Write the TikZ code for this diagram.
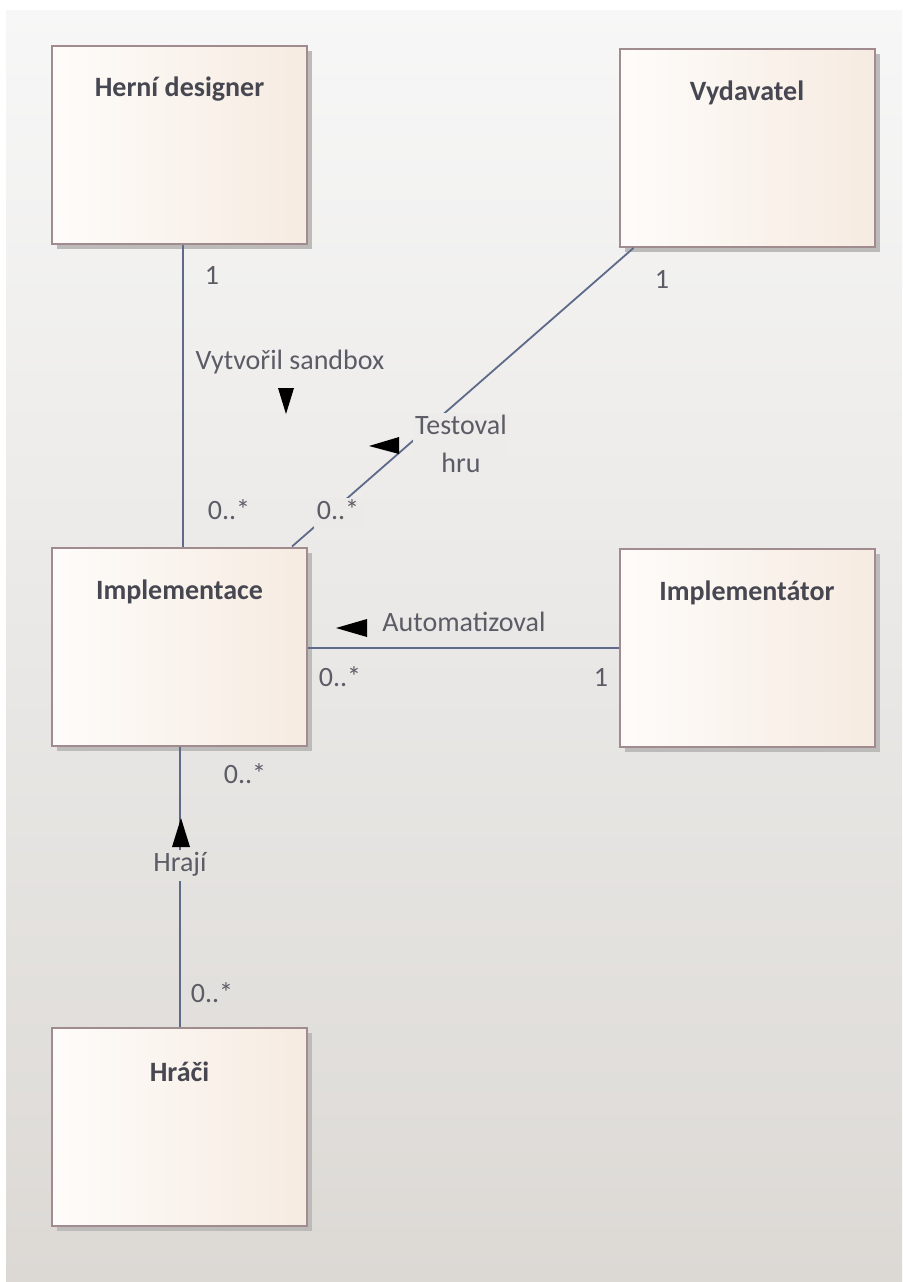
\documentclass[tikz,border=0pt]{standalone}
\usepackage{fontspec}
\setmainfont{Carlito}
\usetikzlibrary{shadows}
\definecolor{bgtop}{HTML}{F7F7F7}
\definecolor{bgbottom}{HTML}{DCD9D5}
\definecolor{clsleft}{HTML}{FEFCFA}
\definecolor{clsright}{HTML}{F6EBE1}
\definecolor{clsborder}{HTML}{A08C8E}
\definecolor{clsshadow}{HTML}{BDBBB9}
\definecolor{linecol}{HTML}{5D6A88}
\definecolor{labelcol}{HTML}{5C5C66}
\definecolor{titlecol}{HTML}{474752}
\begin{document}
\begin{tikzpicture}[x=1pt,y=-1pt,
  cls/.style={draw=clsborder,line width=2pt,left color=clsleft,right color=clsright,
    minimum width=255pt,minimum height=198pt,
    drop shadow={shadow xshift=5pt,shadow yshift=-5pt,opacity=1,fill=clsshadow}},
  title/.style={font=\fontsize{28}{34}\selectfont\bfseries,text=titlecol},
  txt/.style={font=\fontsize{28}{38}\selectfont,text=labelcol,inner sep=3pt},
  lbl/.style={txt,text height=19pt,text depth=6pt},
  assoc/.style={draw=linecol,line width=1.8pt}]
\useasboundingbox (0,0) rectangle (902,1282);
\fill[white] (0,0) rectangle (902,1282);
\shade[top color=bgtop,bottom color=bgbottom] (6,10) rectangle (902,1282);

\node[cls] (designer) at (179.5,144.5) {};
\node[cls] (publisher) at (747,148) {};
\node[cls] (impl) at (179.5,646.5) {};
\node[cls] (implementor) at (747,647.5) {};
\node[cls] (players) at (179.5,1126.5) {};

\node[title] (designertitle) at ([yshift=-45pt]designer.north) {Herní designer};
\node[title] (publishertitle) at ([yshift=-45pt]publisher.north) {Vydavatel};
\node[title] (impltitle) at ([yshift=-45pt]impl.north) {Implementace};
\node[title] (implementortitle) at ([yshift=-45pt]implementor.north) {Implementátor};
\node[title] (playerstitle) at ([yshift=-45pt]players.north) {Hráči};

\draw[assoc] ([xshift=3.5pt]designer.south) -- ([xshift=3.5pt]impl.north);
\draw[assoc] ([xshift=15pt]publisher.south west) -- ([xshift=-16pt]impl.north east);
\draw[assoc] ([yshift=-1.5pt]impl.east) -- ([yshift=-1.5pt]impl.east -| implementor.west);
\draw[assoc] ([xshift=0.5pt]impl.south) -- ([xshift=0.5pt]players.north);

\node[lbl] (designermult) at (212,278) {1};
\node[lbl] (createdlbl) at (290,363) {Vytvořil sandbox};
\node[lbl] (createdmult) at (229,513) {0..*};
\node[lbl] (publishermult) at (662,282) {1};
\node[txt,align=center,fill=bgtop!62!bgbottom,inner sep=2pt] (testedlbl) at (461,444) {Testoval\\hru};
\node[lbl,fill=bgtop!55!bgbottom] (testedmult) at (338,513) {0..*};
\node[lbl] (autolbl) at (464,625) {Automatizoval};
\node[lbl] (automult) at (340,680) {0..*};
\node[lbl] (implementormult) at (601,680) {1};
\node[lbl] (playsmult) at (245,777) {0..*};
\node[lbl,fill=bgtop!33!bgbottom] (playslbl) at (180,865) {Hrají};
\node[lbl] (playersmult) at (212,996) {0..*};

\fill[black] (278,388) -- (294,388) -- (286,414) -- cycle;
\fill[black] (369,446) -- (399,437) -- (399,454) -- cycle;
\fill[black] (336,628) -- (367,619) -- (367,637) -- cycle;
\fill[black] (181,818) -- (172,847) -- (190,847) -- cycle;
\end{tikzpicture}
\end{document}
